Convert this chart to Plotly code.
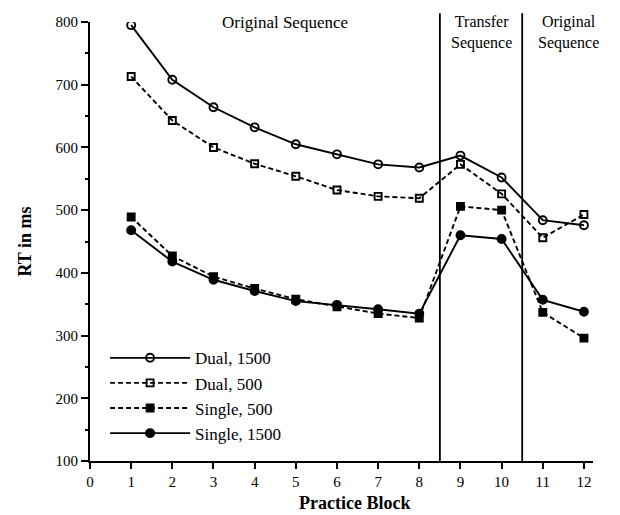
import plotly.graph_objects as go

blocks = [1, 2, 3, 4, 5, 6, 7, 8, 9, 10, 11, 12]
dual_1500 = [795, 708, 664, 632, 605, 589, 573, 568, 587, 552, 484, 476]
dual_500 = [713, 643, 600, 574, 554, 532, 522, 519, 573, 526, 456, 493]
single_500 = [489, 427, 394, 375, 358, 346, 335, 328, 506, 500, 337, 296]
single_1500 = [468, 418, 389, 371, 355, 349, 342, 335, 460, 454, 357, 338]

x_ticks = list(range(0, 13))
y_ticks = [100, 200, 300, 400, 500, 600, 700, 800]
separators = [8.5, 10.5]
section_labels = ["Original Sequence", "Transfer<br>Sequence", "Original<br>Sequence"]

FONT = "Liberation Serif"

series = [
    ("Dual, 1500", dual_1500, "solid", "circle-open"),
    ("Dual, 500", dual_500, "5px,3px", "square-open"),
    ("Single, 500", single_500, "5px,3px", "square"),
    ("Single, 1500", single_1500, "solid", "circle"),
]

fig = go.Figure()
for name, vals, dash, sym in series:
    fig.add_trace(go.Scatter(
        x=blocks, y=vals, name=name, mode="lines+markers",
        line=dict(color="black", width=1.9, dash=dash),
        marker=dict(symbol=sym, size=8 if "circle" in sym else 7,
                    color="black", line=dict(color="black", width=1.9)),
    ))

for s in separators:
    fig.add_shape(type="line", xref="x", yref="paper", x0=s, x1=s, y0=0, y1=1.02,
                  line=dict(color="black", width=1.8))

fig.add_annotation(text=section_labels[0], x=4.74, y=1.0, xref="x", yref="paper",
                   showarrow=False, yanchor="middle", font=dict(size=17))
fig.add_annotation(text=section_labels[1], x=9.5, y=0.975, xref="x", yref="paper",
                   showarrow=False, yanchor="middle", font=dict(size=16))
fig.add_annotation(text=section_labels[2], x=11.62, y=0.975, xref="x", yref="paper",
                   showarrow=False, yanchor="middle", font=dict(size=16))

fig.add_annotation(text="<b>RT in ms</b>", x=12, y=242, xref="paper", yref="paper",
                   showarrow=False, textangle=-90, font=dict(size=18))
fig.add_annotation(text="<b>Practice Block</b>", x=354, y=503, xref="paper", yref="paper",
                   showarrow=False, yanchor="middle", borderpad=0, font=dict(size=18))

# convert pixel-based annotation coords to paper fractions
L, R, T, B = 89.5, 27, 22, 54
W, H = 620, 515
pw, ph = W - L - R, H - T - B
fig.layout.annotations[-2].x = (fig.layout.annotations[-2].x - L) / pw
fig.layout.annotations[-2].y = 1 - (fig.layout.annotations[-2].y - T) / ph
fig.layout.annotations[-1].x = (fig.layout.annotations[-1].x - L) / pw
fig.layout.annotations[-1].y = -(fig.layout.annotations[-1].y - T - ph) / ph

fig.update_layout(
    width=W, height=H,
    margin=dict(l=L, r=R, t=T, b=B, pad=0),
    paper_bgcolor="white", plot_bgcolor="white",
    font=dict(family=FONT, size=15, color="black"),
    showlegend=True,
    legend=dict(x=0.03, y=0.275, xanchor="left", yanchor="top",
                bgcolor="rgba(0,0,0,0)", font=dict(size=17),
                itemwidth=80, tracegroupgap=0),
    xaxis=dict(range=[0, 12.22], tickvals=x_ticks, ticktext=[str(v) for v in x_ticks],
               showgrid=False, zeroline=False, showline=True, linecolor="black",
               linewidth=2, ticks="outside", ticklen=6, tickwidth=2, tickcolor="black",
               tickfont=dict(size=15)),
    yaxis=dict(range=[100, 800], tickvals=y_ticks, ticktext=[str(v) for v in y_ticks],
               showgrid=False, zeroline=False, showline=True, linecolor="black",
               linewidth=2, ticks="outside", ticklen=7, tickwidth=2, tickcolor="black",
               tickfont=dict(size=15),
               minor=dict(ticks="outside", ticklen=3, tickwidth=1.5, dtick=50,
                          tickcolor="black", showgrid=False)),
)

fig.write_html("out.html")
